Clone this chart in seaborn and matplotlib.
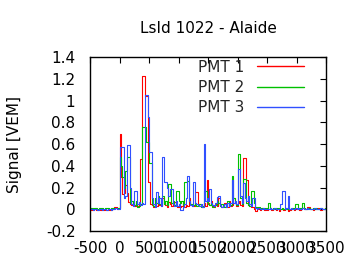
import numpy as np
import pandas as pd
import matplotlib
matplotlib.use("Agg")
import matplotlib.pyplot as plt
import seaborn as sns
from matplotlib.ticker import FormatStrFormatter

# ---- data: 25 ns bins starting at t = -500 ns ----
bin_start = -500
bin_width = 25
series_names = ["PMT 1", "PMT 2", "PMT 3"]

pmt1 = [
    0.00, -0.01, -0.01, 0.00, -0.01, -0.01, 0.00, -0.01, 0.00, -0.01,
    0.00, -0.01, 0.00, -0.01, -0.01, 0.00, 0.02, 0.02, 0.00, 0.01,
    0.69, 0.30, 0.14, 0.15, 0.22, 0.15, 0.07, 0.05, 0.04, 0.06,
    0.03, 0.05, 0.03, 0.04, 0.46, 1.23, 1.23, 1.04, 1.04, 0.25,
    0.25, 0.05, 0.04, 0.02, 0.05, 0.03, 0.08, 0.04, 0.03, 0.10,
    0.06, 0.04, 0.02, 0.07, 0.05, 0.03, 0.07, 0.07, 0.04, 0.02,
    0.05, 0.02, 0.03, 0.06, 0.02, 0.04, 0.03, 0.10, 0.05, 0.03,
    0.03, 0.16, 0.16, 0.05, 0.03, 0.04, 0.02, 0.06, 0.03, 0.27,
    0.06, 0.04, 0.08, 0.03, 0.02, 0.05, 0.03, 0.10, 0.04, 0.02,
    0.03, 0.06, 0.04, 0.02, 0.08, 0.03, 0.04, 0.10, 0.06, 0.03,
    0.06, 0.08, 0.04, 0.03, 0.47, 0.47, 0.27, 0.04, 0.03, 0.02,
    0.02, 0.00, -0.02, 0.01, 0.00, -0.01, 0.01, 0.00, -0.01, 0.00,
    -0.01, 0.00, 0.01, -0.01, 0.00, 0.00, -0.01, 0.00, -0.02, 0.00,
    0.00, -0.01, 0.01, 0.00, -0.02, -0.01, 0.00, 0.00, -0.01, 0.00,
    0.00, 0.00, -0.01, 0.00, 0.01, 0.00, 0.00, 0.02, 0.02, 0.00,
    0.00, -0.01, 0.00, 0.00, 0.01, 0.00, -0.01, 0.00, 0.00, 0.00,
]
pmt2 = [
    0.01, 0.01, 0.00, 0.01, 0.01, 0.00, 0.01, 0.01, 0.01, 0.00,
    0.01, 0.01, 0.01, 0.00, 0.01, 0.01, 0.01, 0.01, 0.01, 0.01,
    0.48, 0.40, 0.30, 0.20, 0.35, 0.48, 0.48, 0.06, 0.08, 0.05,
    0.04, 0.08, 0.02, 0.03, 0.05, 0.76, 0.76, 0.76, 0.62, 0.62,
    0.43, 0.43, 0.05, 0.03, 0.10, 0.06, 0.12, 0.05, 0.04, 0.12,
    0.05, 0.08, 0.04, 0.23, 0.23, 0.06, 0.08, 0.04, 0.17, 0.17,
    0.08, 0.06, 0.08, 0.04, 0.25, 0.25, 0.26, 0.08, 0.05, 0.04,
    0.04, 0.06, 0.03, 0.04, 0.05, 0.02, 0.03, 0.17, 0.17, 0.07,
    0.05, 0.04, 0.06, 0.02, 0.03, 0.04, 0.08, 0.06, 0.03, 0.05,
    0.04, 0.02, 0.05, 0.08, 0.03, 0.04, 0.31, 0.10, 0.06, 0.04,
    0.51, 0.51, 0.10, 0.05, 0.28, 0.28, 0.06, 0.04, 0.03, 0.17,
    0.17, 0.06, 0.02, 0.01, 0.02, 0.00, 0.01, 0.00, 0.01, 0.00,
    0.01, 0.06, 0.01, 0.00, 0.01, 0.00, 0.01, 0.01, 0.00, 0.00,
    0.01, 0.00, 0.01, 0.00, 0.01, 0.00, 0.00, 0.01, 0.00, 0.05,
    0.05, 0.00, 0.01, 0.00, 0.06, 0.01, 0.00, 0.00, 0.01, 0.00,
    0.00, 0.01, 0.00, 0.01, 0.00, 0.00, 0.01, 0.00, 0.00, 0.01,
]
pmt3 = [
    0.00, 0.00, -0.01, 0.00, 0.00, -0.01, 0.00, 0.00, -0.01, 0.00,
    0.00, -0.01, 0.00, 0.00, -0.01, 0.00, 0.00, 0.01, 0.00, 0.00,
    0.57, 0.57, 0.57, 0.10, 0.12, 0.59, 0.59, 0.20, 0.05, 0.03,
    0.17, 0.17, 0.05, 0.07, 0.04, 0.06, 0.05, 1.05, 1.05, 0.85,
    0.53, 0.53, 0.10, 0.05, 0.02, 0.16, 0.06, 0.10, 0.03, 0.48,
    0.25, 0.25, 0.20, 0.12, 0.19, 0.19, 0.05, 0.03, 0.08, 0.03,
    0.05, -0.01, -0.01, 0.02, 0.05, 0.10, 0.31, 0.08, 0.04, 0.03,
    0.25, 0.06, 0.05, 0.04, 0.03, 0.05, 0.02, 0.60, 0.08, 0.10,
    0.08, 0.19, 0.06, 0.04, 0.03, 0.06, 0.11, 0.12, 0.04, 0.02,
    0.03, 0.05, 0.02, 0.06, 0.03, 0.06, 0.27, 0.06, 0.08, 0.05,
    0.37, 0.37, 0.12, 0.06, 0.24, 0.10, 0.08, 0.12, 0.05, 0.03,
    0.10, 0.10, 0.01, 0.00, 0.01, 0.00, 0.00, 0.01, 0.00, 0.00,
    0.00, 0.00, 0.01, 0.00, 0.00, 0.01, 0.00, 0.00, 0.00, 0.05,
    0.17, 0.17, 0.00, 0.01, 0.12, 0.00, 0.01, 0.00, 0.00, 0.01,
    0.00, 0.01, 0.00, 0.00, 0.01, 0.00, 0.00, 0.01, 0.00, 0.00,
    0.00, 0.00, 0.01, 0.00, 0.00, 0.00, 0.01, 0.00, 0.00, 0.00,
]

x_ticks = [-500, 0, 500, 1000, 1500, 2000, 2500, 3000, 3500]
y_ticks = [-0.2, 0, 0.2, 0.4, 0.6, 0.8, 1.0, 1.2, 1.4]
title = "LsId 1022 - Alaide"
ylabel = "Signal [VEM]"

# ---- long-form table (step-post: repeat last value at the final edge) ----
frames = []
for name, vals in zip(series_names, [pmt1, pmt2, pmt3]):
    n = len(vals)
    t = bin_start + bin_width * np.arange(n + 1)
    v = list(vals) + [vals[-1]]
    frames.append(pd.DataFrame({"time": t, "signal": v, "pmt": name}))
df = pd.concat(frames, ignore_index=True)

sns.set_theme(style="white")
plt.rcParams["font.family"] = ["DejaVu Sans"]
plt.rcParams["axes.unicode_minus"] = False

fig = plt.figure(figsize=(3.6, 2.7), dpi=100)
ax = fig.add_axes([0.25, 0.1444, 0.6556, 0.6444])

palette = {"PMT 1": "#ff0000", "PMT 2": "#00c000", "PMT 3": "#3050ff"}
sns.lineplot(data=df, x="time", y="signal", hue="pmt", palette=palette,
             estimator=None, sort=False, drawstyle="steps-post",
             linewidth=0.8, ax=ax)

ax.set_xlim(-500, 3500)
ax.set_ylim(-0.2, 1.4)
ax.set_xticks(x_ticks)
ax.set_yticks(y_ticks)
ax.xaxis.set_major_formatter(FormatStrFormatter("%g"))
ax.yaxis.set_major_formatter(FormatStrFormatter("%g"))
ax.tick_params(direction="in", top=True, right=True, length=4, width=0.8,
               color="black", labelsize=11, labelcolor="black")
ax.tick_params(axis="y", pad=10.5)
ax.tick_params(axis="x", pad=7)
for s in ax.spines.values():
    s.set_color("black")
    s.set_linewidth(1.0)

ax.set_xlabel("")
ax.set_ylabel(ylabel, fontsize=11, color="black")
ax.yaxis.set_label_coords(-0.29, 0.5)
ax.set_title(title, fontsize=11, color="black", pad=17)

leg = ax.legend(loc="upper right", frameon=False, fontsize=11,
                markerfirst=False, handlelength=3.1, handletextpad=0.85,
                labelspacing=0.35, borderaxespad=0.3,
                bbox_to_anchor=(0.954, 1.046))
for h in leg.get_lines():
    h.set_linewidth(1.0)

fig.savefig("out.png", dpi=100, facecolor="white")
